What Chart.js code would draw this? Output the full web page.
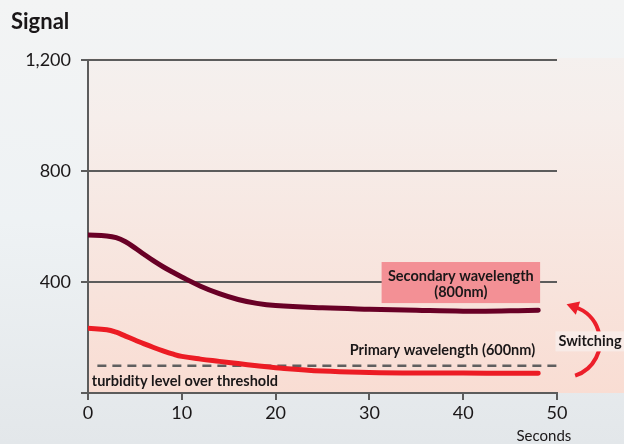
<!DOCTYPE html>
<html><head><meta charset="utf-8">
<script src="https://cdn.jsdelivr.net/npm/chart.js@4"></script>
<style>html,body{margin:0;padding:0;background:#edf0f2;overflow:hidden}</style>
</head><body>
<canvas id="c" width="624" height="444"></canvas>
<script>
// ---- data ----
const seconds = [0, 2, 3, 4, 5, 6, 7, 8, 9, 10, 12, 14, 16, 18, 20, 25, 30, 35, 40, 45, 48];
const secondaryWavelength = [569, 566, 560, 545, 523, 499, 476, 455, 436, 418, 385, 358, 337, 323, 315, 307, 302, 298, 295, 296, 298];
const primaryWavelength = [233, 228, 219, 205, 191, 177, 164, 152, 141, 132, 122, 114, 106, 98, 91, 79, 74, 72, 72, 71, 71];
const thresholdX = [1, 50];
const thresholdY = [98, 98];
const yTickValues = [0, 400, 800, 1200];
const xTickValues = [0, 10, 20, 30, 40, 50];
const yTitle = 'Signal';
const xTitle = 'Seconds';
const secondaryLabel = ['Secondary wavelength', '(800nm)'];
const primaryLabel = 'Primary wavelength (600nm)';
const thresholdLabel = 'turbidity level over threshold';
const switchLabel = 'Switching';

const FONT = 'Lato, "Open Sans", sans-serif';
const AXIS = '#5c5c5c';
const TEXT = '#1a1718';

const decor = {
  id: 'decor',
  beforeDraw(chart) {
    const {ctx, chartArea: a, width, height} = chart;
    ctx.save();
    let g = ctx.createLinearGradient(0, 0, 0, height);
    g.addColorStop(0, '#f3f4f4');
    g.addColorStop(0.5, '#eef2f4');
    g.addColorStop(1, '#e3e7ea');
    ctx.fillStyle = g;
    ctx.fillRect(0, 0, width, height);
    g = ctx.createLinearGradient(0, 0, 0, a.bottom);
    g.addColorStop(0, 'rgba(243,242,241,1)');
    g.addColorStop(0.3, '#f6eeeb');
    g.addColorStop(1, '#f9ddd3');
    ctx.fillStyle = g;
    ctx.fillRect(a.left, a.top - 2, width - a.left, a.bottom - a.top + 2);
    ctx.restore();
  },
  afterDraw(chart) {
    const {ctx, chartArea: a, scales: {x, y}} = chart;
    ctx.save();
    ctx.fillStyle = TEXT;
    ctx.font = 'bold 22px ' + FONT;
    ctx.textAlign = 'left';
    ctx.textBaseline = 'middle';
    ctx.fillText(yTitle, 11, 22);
    ctx.font = '15px ' + FONT;
    ctx.textAlign = 'center';
    ctx.fillText(xTitle, x.getPixelForValue(48.6), 436);

    // secondary box
    const bx0 = x.getPixelForValue(31.3), bx1 = x.getPixelForValue(48.2);
    const by0 = y.getPixelForValue(472), by1 = y.getPixelForValue(324);
    ctx.fillStyle = '#f39095';
    ctx.fillRect(bx0, by0, bx1 - bx0, by1 - by0);
    ctx.fillStyle = TEXT;
    ctx.font = 'bold 14.5px ' + FONT;
    ctx.textAlign = 'center';
    ctx.fillText(secondaryLabel[0], (bx0 + bx1) / 2, by0 + 14);
    ctx.fillText(secondaryLabel[1], (bx0 + bx1) / 2, by0 + 30);

    ctx.textAlign = 'left';
    ctx.fillText(primaryLabel, x.getPixelForValue(27.9), y.getPixelForValue(155));
    ctx.fillText(thresholdLabel, x.getPixelForValue(0.4), y.getPixelForValue(41));

    // switching arrow
    const cx = a.right + 7, cy = y.getPixelForValue(186), r = 36;
    ctx.strokeStyle = '#ec1f2a';
    ctx.lineWidth = 4;
    ctx.beginPath();
    const a0 = 72 * Math.PI / 180, a1 = -72 * Math.PI / 180;
    ctx.arc(cx, cy, r, a0, a1, true);
    ctx.stroke();
    const ex = cx + r * Math.cos(a1), ey = cy + r * Math.sin(a1);
    const ux = Math.sin(a1), uy = -Math.cos(a1);
    const px = -uy, py = ux;
    ctx.fillStyle = '#ec1f2a';
    ctx.beginPath();
    ctx.moveTo(ex + ux * 9, ey + uy * 9);
    ctx.lineTo(ex - ux * 3 + px * 7, ey - uy * 3 + py * 7);
    ctx.lineTo(ex - ux * 3 - px * 7, ey - uy * 3 - py * 7);
    ctx.closePath();
    ctx.fill();
    ctx.font = 'bold 14.5px ' + FONT;
    ctx.textAlign = 'center';
    const tw = ctx.measureText(switchLabel).width;
    const lx = 590, ly = cy;
    ctx.fillStyle = '#f8ebe7';
    ctx.fillRect(lx - tw / 2 - 3, ly - 10, tw + 6, 20);
    ctx.fillStyle = TEXT;
    ctx.fillText(switchLabel, lx, ly);
    ctx.restore();
  }
};

new Chart(document.getElementById('c'), {
  type: 'line',
  data: {
    datasets: [
      {
        label: 'Secondary',
        data: seconds.map((s, i) => ({x: s, y: secondaryWavelength[i]})),
        borderColor: '#690026',
        borderWidth: 5,
        borderCapStyle: 'round',
        borderJoinStyle: 'round',
        pointRadius: 0,
        tension: 0.4,
        fill: false
      },
      {
        label: 'Primary',
        data: seconds.map((s, i) => ({x: s, y: primaryWavelength[i]})),
        borderColor: '#ec1c24',
        borderWidth: 5,
        borderCapStyle: 'round',
        borderJoinStyle: 'round',
        pointRadius: 0,
        tension: 0.4,
        fill: false
      },
      {
        label: 'Threshold',
        data: thresholdX.map((s, i) => ({x: s, y: thresholdY[i]})),
        borderColor: '#5f5f5f',
        borderWidth: 2.5,
        borderDash: [9, 6],
        pointRadius: 0,
        fill: false,
        order: 5
      }
    ]
  },
  options: {
    responsive: false,
    animation: false,
    layout: {padding: {top: 60, right: 67, bottom: 0, left: 0}},
    plugins: {legend: {display: false}, tooltip: {enabled: false}},
    scales: {
      x: {
        type: 'linear',
        min: 0, max: 50,
        afterBuildTicks: s => { s.ticks = xTickValues.map(v => ({value: v})); },
        afterFit: s => { s.height = 51; },
        ticks: {color: TEXT, font: {family: FONT, size: 18}, padding: 2, maxRotation: 0},
        grid: {drawOnChartArea: false, color: AXIS, lineWidth: 2, tickLength: 7},
        border: {color: AXIS, width: 2}
      },
      y: {
        min: 0, max: 1200,
        afterBuildTicks: s => { s.ticks = yTickValues.map(v => ({value: v})); },
        afterFit: s => { s.width = 88; },
        ticks: {
          color: TEXT, font: {family: FONT, size: 18}, padding: 10,
          callback: v => v === 0 ? '' : v.toLocaleString('en-US')
        },
        grid: {color: AXIS, lineWidth: 2, tickLength: 7},
        border: {color: AXIS, width: 2}
      }
    }
  },
  plugins: [decor]
});
</script>
</body></html>
